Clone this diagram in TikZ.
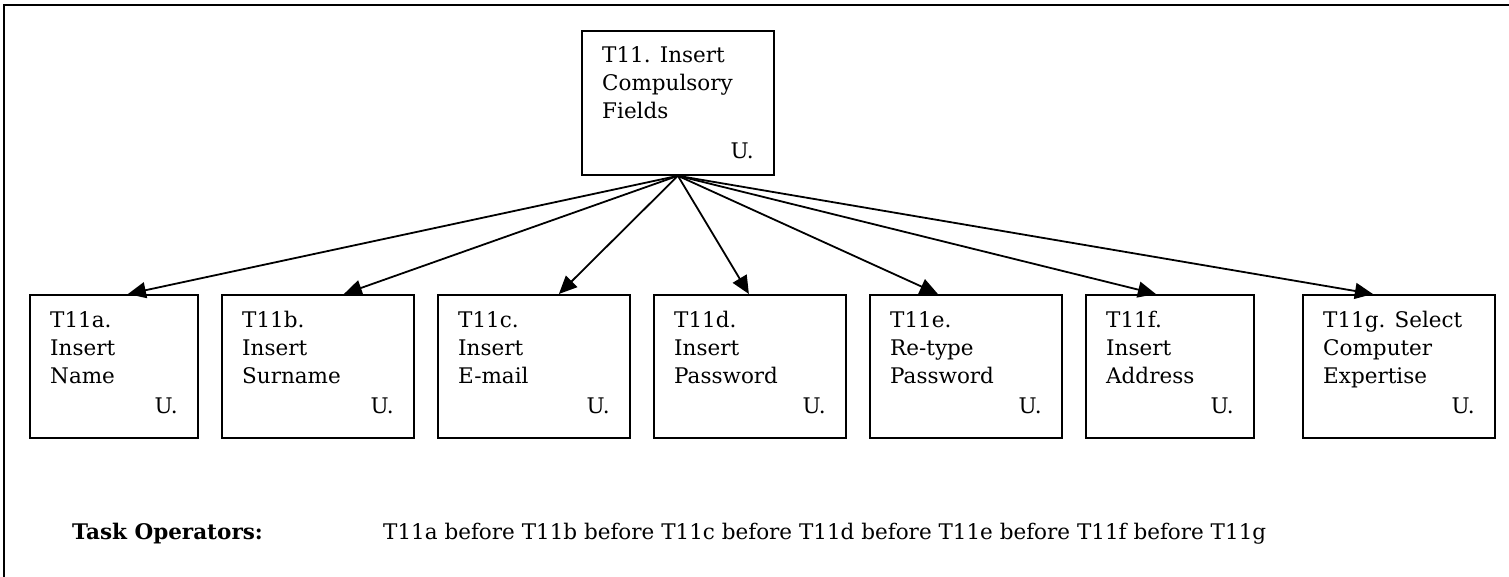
\documentclass[tikz,border=0pt]{standalone}
\usepackage{fontspec}
\setmainfont{DejaVu Serif}
\usetikzlibrary{arrows.meta}
\tikzset{
  box/.style={draw, line width=1.8pt, rectangle, inner sep=0pt, anchor=north west},
  txt/.style={inner sep=0pt, font=\fontsize{21.5}{28}\selectfont},
  arr/.style={line width=1.8pt, -{Triangle[length=18pt,width=16pt]}},
  frame/.style={line width=2.2pt}
}
\newcommand\taskbox[9]{%
  \node[box, minimum width=#4pt, minimum height=#5pt] (#1) at (#2,#3) {};
  \node[txt, anchor=base west] (#1-l1) at ([xshift=21pt,yshift=-33pt]#1.north west) {#6};
  \node[txt, anchor=base west] (#1-l2) at ([xshift=21pt,yshift=-61pt]#1.north west) {#7};
  \node[txt, anchor=base west] (#1-l3) at ([xshift=21pt,yshift=-89pt]#1.north west) {#8};
  \node[txt, anchor=base east] (#1-u) at ([xshift=-21pt,yshift=#9pt]#1.south east) {U.};
}
\begin{document}
\begin{tikzpicture}[x=1pt,y={(0,-1pt)}]
\useasboundingbox (0,0) rectangle (1509,577);
\coordinate (fl) at (4,577);
\coordinate (fc) at (4,5);
\coordinate (fr) at (1509,5);
\draw[frame] (fl) -- (fc) -- (fr);

\taskbox{top}{581}{30}{192}{144}{T11. Insert}{Compulsory}{Fields}{17}
\taskbox{a}{29}{294}{168}{143}{T11a.}{Insert}{Name}{25}
\taskbox{b}{221}{294}{192}{143}{T11b.}{Insert}{Surname}{25}
\taskbox{c}{437}{294}{192}{143}{T11c.}{Insert}{E-mail}{25}
\taskbox{d}{653}{294}{192}{143}{T11d.}{Insert}{Password}{25}
\taskbox{e}{869}{294}{192}{143}{T11e.}{Re-type}{Password}{25}
\taskbox{f}{1085}{294}{168}{143}{T11f.}{Insert}{Address}{25}
\taskbox{g}{1302}{294}{192}{143}{T11g. Select}{Computer}{Expertise}{25}

\draw[arr] (top.south) -- ([xshift=14pt]a.north);
\draw[arr] (top.south) -- ([xshift=26pt]b.north);
\draw[arr] (top.south) -- ([xshift=25pt]c.north);
\draw[arr] (top.south) -- ([xshift=-1pt]d.north);
\draw[arr] (top.south) -- ([xshift=-28pt]e.north);
\draw[arr] (top.south) -- ([xshift=-14pt]f.north);
\draw[arr] (top.south) -- ([xshift=-26pt]g.north);

\node[txt, anchor=base west, font=\fontsize{21.5}{28}\selectfont\bfseries] (ops) at (72,539) {Task Operators:};
\node[txt, anchor=base west] (seq) at (383,539) {T11a before T11b before T11c before T11d before T11e before T11f before T11g};
\end{tikzpicture}
\end{document}
